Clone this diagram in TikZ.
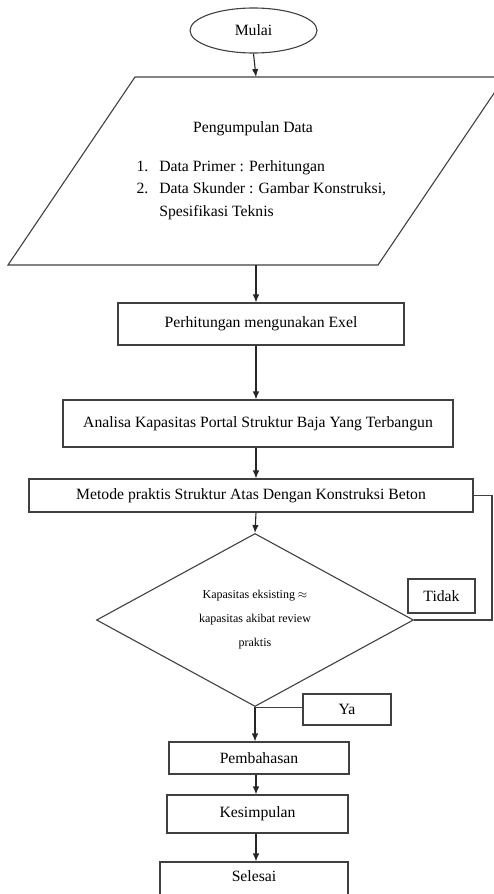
\documentclass[tikz,border=0pt]{standalone}
\usepackage{fontspec}
\setmainfont{Liberation Serif}
\usetikzlibrary{shapes.geometric,arrows.meta}

\tikzset{
  kotak/.style={draw=black!75,rectangle,inner sep=0pt},
  panah/.style={draw=black!85,-{Latex[length=8pt,width=6.5pt]}},
  garis/.style={draw=black!75}
}

\begin{document}
\begin{tikzpicture}[x=1pt,y=-1pt,line width=1.1pt,
    font=\fontsize{15.7}{18}\selectfont]

  \useasboundingbox (0,0) rectangle (494,894);

  %% mulai
  \node[draw=black!75,ellipse,minimum width=127pt,minimum height=45pt]
    (mulai) at (253.5,30.5) {Mulai};

  %% pengumpulan data (jajaran genjang)
  \draw[garis] (135,77) -- (505,77) -- (378,265) -- (8,265) -- cycle;
  \coordinate (dataAtas) at (256,77);
  \coordinate (dataBawah) at (256,265);
  \node (judul) at (253,129) {Pengumpulan Data};
  \node[anchor=north west,inner sep=0pt,
    font=\fontsize{15.7}{22.5}\selectfont] (daftar) at (136,155)
  {\begin{tabular}{@{}l@{\hspace{11pt}}l@{}}
    1. & Data Primer : Perhitungan\\
    2. & Data Skunder : Gambar Konstruksi,\\
       & Spesifikasi Teknis
  \end{tabular}};

  \coordinate (sumbu) at (256,0);

  \node[kotak,minimum width=286pt,minimum height=42pt]
    (hitung) at (261,324) {Perhitungan mengunakan Exel};
  \node[kotak,minimum width=390pt,minimum height=47pt]
    (analisa) at (258,423.5) {Analisa Kapasitas Portal Struktur Baja Yang Terbangun};
  \node[kotak,minimum width=444pt,minimum height=33pt]
    (metode) at (251,495.5) {Metode praktis Struktur Atas Dengan Konstruksi Beton};

  \node[draw=black!75,diamond,inner sep=0pt,minimum width=317pt,
    minimum height=173pt,align=center,
    font=\fontsize{12}{24}\selectfont] (cek) at (255,620)
    {Kapasitas eksisting $\approx$\\ kapasitas akibat review\\ praktis};

  \node[kotak,minimum width=67pt,minimum height=34pt]
    (tidak) at (441.5,596) {Tidak};
  \node[kotak,minimum width=88pt,minimum height=31pt]
    (ya) at (347,709.5) {Ya};

  \node[kotak,minimum width=180pt,minimum height=32pt]
    (bahas) at (259,758) {Pembahasan};
  \node[kotak,minimum width=181pt,minimum height=38pt]
    (simpul) at (257.5,814) {Kesimpulan};
  \node[kotak,minimum width=188pt,minimum height=38pt,text depth=10pt]
    (selesai) at (254,881) {Selesai};

  %% alur
  \draw[panah] (mulai.south) -- (dataAtas);
  \draw[panah] (dataBawah) -- (dataBawah |- hitung.north);
  \draw[panah] (hitung.south -| sumbu) -- (analisa.north -| sumbu);
  \draw[panah] (analisa.south -| sumbu) -- (metode.north -| sumbu);
  \draw[panah] (metode.south -| sumbu) -- (cek.north);
  \draw[panah] (cek.south) -- (cek.south |- bahas.north);
  \draw[panah] (bahas.south -| sumbu) -- (simpul.north -| sumbu);
  \draw[panah] (simpul.south -| sumbu) -- (selesai.north -| sumbu);

  %% tidak / ya
  \coordinate (balik) at (492,622);
  \draw[garis] (cek.east) -- (cek.east -| balik) |- (metode.east);
  \draw[garis] (cek.south) -- (cek.south -| ya.west);

\end{tikzpicture}
\end{document}
